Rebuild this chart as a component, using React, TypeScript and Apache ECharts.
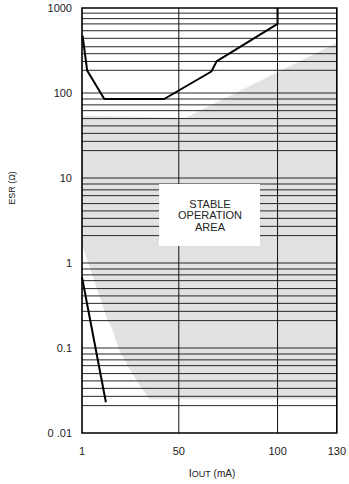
import React, { useEffect, useRef } from 'react';
import * as echarts from 'echarts';

// Axis ticks
const xTickLabels = [1, 50, 100, 130];
const xGridValues = [50, 100];
const yMajorValues = [0.1, 1, 10, 100];
const yMinorDecades = [0.01, 0.1, 1, 10];
const minorMultipliers = [2.1, 2.7, 3.35, 4.1, 5.0, 6.2, 7.25, 8.5];
const topDecadeBase = 100;
const topDecadeMultipliers = [1.85, 2.35, 2.9, 3.5, 4.4, 5.4, 6.5, 7.5, 8.7];

// Upper ESR boundary (IOUT mA, ESR ohm)
const upperX = [1.3, 3.6, 12.3, 42.6, 66.5, 69.1, 100, 100];
const upperY = [472, 184, 85, 85, 179, 235, 649, 1000];

// Lower ESR boundary
const lowerX = [1, 13.1];
const lowerY = [0.68, 0.023];

// Stable operation (shaded) area outline
const areaX = [1, 53.5, 130, 130, 35.3, 31.1, 26.2, 19.7, 16.4, 13.9, 1];
const areaY = [54, 51, 391, 0.025, 0.025, 0.034, 0.051, 0.095, 0.164, 0.215, 1.64];

const FONT = 'Liberation Sans, Arial, sans-serif';

export default function App() {
  const ref = useRef<HTMLDivElement>(null);

  useEffect(() => {
    if (!ref.current) return;
    const chart = echarts.init(ref.current, null, { renderer: 'svg' });

    const gridValues: number[] = [...yMajorValues];
    yMinorDecades.forEach((d) => minorMultipliers.forEach((m) => gridValues.push(d * m)));
    topDecadeMultipliers.forEach((m) => gridValues.push(topDecadeBase * m));

    const option: any = {
      animation: false,
      backgroundColor: '#fff',
      grid: { left: 82, top: 8, right: 12, bottom: 51, containLabel: false },
      xAxis: {
        type: 'value',
        min: 1,
        max: 130,
        axisLine: { show: false },
        axisTick: { show: false },
        splitLine: { show: false },
        axisLabel: {
          customValues: xTickLabels,
          margin: 12,
          fontSize: 11,
          color: '#222',
          fontFamily: FONT,
          formatter: (v: number) => String(Math.round(v)),
        },
      },
      yAxis: {
        type: 'log',
        logBase: 10,
        min: 0.01,
        max: 1000,
        axisLine: { show: false },
        axisTick: { show: false },
        splitLine: { show: false },
        axisLabel: {
          margin: 10,
          fontSize: 11,
          color: '#222',
          fontFamily: FONT,
          formatter: (v: number) => {
            if (Math.abs(v - 0.01) < 1e-9) return '0 .01';
            if (Math.abs(v - 0.1) < 1e-9) return '0.1';
            return String(Math.round(v));
          },
        },
      },
      graphic: [
        {
          type: 'rect',
          z: 5,
          shape: { x: 159, y: 184, width: 101, height: 62 },
          style: { fill: '#fff' },
        },
        {
          type: 'text',
          z: 6,
          x: 210,
          y: 215,
          style: {
            text: 'STABLE\nOPERATION\nAREA',
            align: 'center',
            verticalAlign: 'middle',
            fontSize: 11,
            lineHeight: 11.5,
            fontFamily: FONT,
            fill: '#222',
          },
        },
        {
          type: 'text',
          x: 12,
          y: 188,
          rotation: Math.PI / 2,
          style: {
            text: 'ESR (Ω)',
            align: 'center',
            verticalAlign: 'middle',
            fontSize: 9,
            fontFamily: FONT,
            fill: '#222',
          },
        },
        {
          type: 'text',
          x: 212,
          y: 472,
          style: {
            text: '{a|I}{b|OUT}{c| (mA)}',
            align: 'center',
            verticalAlign: 'middle',
            fontFamily: FONT,
            fill: '#222',
            rich: {
              a: { fontSize: 11, fontFamily: FONT, fill: '#222', verticalAlign: 'bottom' },
              b: { fontSize: 9, fontFamily: FONT, fill: '#222', verticalAlign: 'bottom', padding: [3, 0, 0, 0] },
              c: { fontSize: 10, fontFamily: FONT, fill: '#222', verticalAlign: 'bottom' },
            },
          },
        },
      ],
      series: [
        {
          type: 'custom',
          name: 'area',
          z: 1,
          silent: true,
          clip: true,
          data: [[1, 1]],
          renderItem: (params: any, api: any) => {
            const pts = areaX.map((x, i) => api.coord([x, areaY[i]]));
            return {
              type: 'polygon',
              shape: { points: pts },
              style: { fill: '#e2e2e2', stroke: null },
            };
          },
        },
        {
          type: 'custom',
          name: 'grid',
          z: 2,
          silent: true,
          data: [[1, 1]],
          renderItem: (params: any, api: any) => {
            const cs = params.coordSys;
            const children: any[] = [];
            gridValues.forEach((v) => {
              const p = api.coord([1, v]);
              children.push({
                type: 'line',
                shape: { x1: cs.x, y1: p[1], x2: cs.x + cs.width, y2: p[1] },
                style: { stroke: '#262626', lineWidth: 1 },
              });
            });
            xGridValues.forEach((v) => {
              const p = api.coord([v, 1]);
              children.push({
                type: 'line',
                shape: { x1: p[0], y1: cs.y, x2: p[0], y2: cs.y + cs.height },
                style: { stroke: '#111', lineWidth: 1 },
              });
            });
            children.push({
              type: 'rect',
              shape: { x: cs.x, y: cs.y, width: cs.width, height: cs.height },
              style: { fill: null, stroke: '#000', lineWidth: 1.6 },
            });
            return { type: 'group', children };
          },
        },
        {
          type: 'line',
          z: 10,
          symbol: 'none',
          silent: true,
          data: upperX.map((x, i) => [x, upperY[i]]),
          lineStyle: { color: '#000', width: 2 },
        },
        {
          type: 'line',
          z: 10,
          symbol: 'none',
          silent: true,
          data: lowerX.map((x, i) => [x, lowerY[i]]),
          lineStyle: { color: '#000', width: 2 },
        },
      ],
    };

    chart.setOption(option);
    return () => chart.dispose();
  }, []);

  return (
    <div
      ref={ref}
      style={{ position: 'absolute', left: 0, top: 0, width: 349, height: 484, background: '#fff' }}
    />
  );
}
